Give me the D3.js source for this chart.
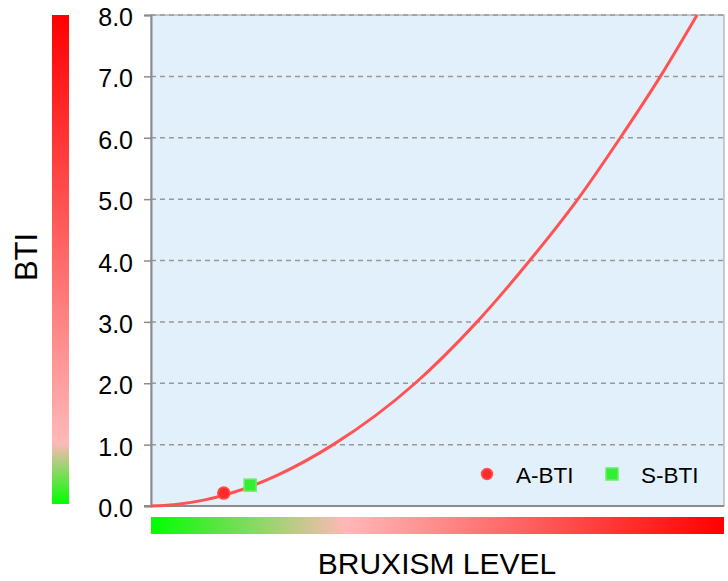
<!DOCTYPE html>
<html>
<head>
<meta charset="utf-8">
<script src="https://cdn.jsdelivr.net/npm/d3@7"></script>
<style>
  html, body { margin: 0; padding: 0; background: #fff; }
  svg { display: block; font-family: "Liberation Sans", Arial, sans-serif; }
</style>
</head>
<body>
<svg id="stage"></svg>
<script>
/* ---------- data ---------- */

const curve_level = [0, 0.4, 0.94, 1.36, 2.2, 3.18, 4.61, 5.69, 6.61, 7.45, 8.19, 8.89, 9.53];
const curve_bti = [0, 0.02, 0.1, 0.2, 0.5, 1, 2, 3, 4, 5, 6, 7, 8];

const marker_names = ["A-BTI", "S-BTI"];
const marker_level = [1.27, 1.73];
const marker_bti = [0.21, 0.34];

const y_ticks = [0, 1, 2, 3, 4, 5, 6, 7, 8];

/* ---------- setup ---------- */

const width = 728;
const height = 581;
const m = { left: 151, right: 4, top: 15, bottom: 75 };

const svg = d3.select("#stage")
  .attr("width", width)
  .attr("height", height);

const x = d3.scaleLinear().domain([0, 10]).range([m.left, width - m.right]);
const y = d3.scaleLinear().domain([0, 8]).range([height - m.bottom, m.top]);

const defs = svg.append("defs");

const v_grad = defs.append("linearGradient")
  .attr("id", "vGrad")
  .attr("x1", 0).attr("y1", 1).attr("x2", 0).attr("y2", 0);
v_grad.append("stop").attr("offset", 0).attr("stop-color", "#00ff00");
v_grad.append("stop").attr("offset", 0.125).attr("stop-color", "#ffb8b8");
v_grad.append("stop").attr("offset", 1).attr("stop-color", "#ff0000");

const h_grad = defs.append("linearGradient")
  .attr("id", "hGrad")
  .attr("x1", 0).attr("y1", 0).attr("x2", 1).attr("y2", 0);
h_grad.append("stop").attr("offset", 0).attr("stop-color", "#00ff00");
h_grad.append("stop").attr("offset", 0.34).attr("stop-color", "#ffb8b8");
h_grad.append("stop").attr("offset", 1).attr("stop-color", "#ff0000");

/* ---------- plot area ---------- */

svg.append("rect")
  .attr("x", x(0)).attr("y", y(8))
  .attr("width", x(10) - x(0)).attr("height", y(0) - y(8))
  .attr("fill", "#e2f0fb")
  .attr("stroke", "#9a9a9a")
  .attr("stroke-width", 1);

svg.append("g")
  .selectAll("line")
  .data(y_ticks.filter(d => d > 0))
  .join("line")
  .attr("x1", x(0)).attr("x2", x(10))
  .attr("y1", d => y(d)).attr("y2", d => y(d))
  .attr("stroke", "#999")
  .attr("stroke-width", 1.5)
  .attr("stroke-dasharray", "5,4");

const y_axis = svg.append("g")
  .attr("transform", `translate(${x(0)},0)`)
  .call(d3.axisLeft(y).tickValues(y_ticks).tickFormat(d3.format(".1f")).tickSize(7).tickPadding(11));
y_axis.select(".domain").attr("stroke", "#8c8c8c").attr("stroke-width", 2);
y_axis.selectAll(".tick line").attr("stroke", "#8c8c8c").attr("stroke-width", 1.5);
y_axis.selectAll(".tick text")
  .attr("font-size", 25)
  .attr("dy", "0.42em")
  .attr("fill", "#000")
  .attr("font-family", "Liberation Sans, Arial, sans-serif");

svg.append("line")
  .attr("x1", x(0) - 7).attr("x2", x(10))
  .attr("y1", y(0)).attr("y2", y(0))
  .attr("stroke", "#8c8c8c").attr("stroke-width", 2);

/* ---------- curve + markers ---------- */

const pts = curve_level.map((v, i) => [v, curve_bti[i]]);

svg.append("path")
  .datum(pts)
  .attr("fill", "none")
  .attr("stroke", "#ff5252")
  .attr("stroke-width", 3)
  .attr("d", d3.line().x(d => x(d[0])).y(d => y(d[1])).curve(d3.curveMonotoneX));

svg.append("circle")
  .attr("cx", x(marker_level[0])).attr("cy", y(marker_bti[0]))
  .attr("r", 6)
  .attr("fill", "#ff2a2a")
  .attr("stroke", "#ff4d4d").attr("stroke-width", 1.5);

svg.append("rect")
  .attr("x", x(marker_level[1]) - 6).attr("y", y(marker_bti[1]) - 6)
  .attr("width", 12).attr("height", 12)
  .attr("fill", "#33ee33")
  .attr("stroke", "#66f066").attr("stroke-width", 1.5);

/* ---------- legend ---------- */

const legend = svg.append("g").attr("transform", "translate(487,474)");
legend.append("circle")
  .attr("r", 5.5)
  .attr("fill", "#ff2a2a")
  .attr("stroke", "#ff5555").attr("stroke-width", 1.5);
legend.append("text")
  .attr("x", 29).attr("y", 8.5)
  .attr("font-size", 22.5)
  .text(marker_names[0]);
legend.append("rect")
  .attr("x", 119).attr("y", -6).attr("width", 12).attr("height", 12)
  .attr("fill", "#33ee33")
  .attr("stroke", "#66f066").attr("stroke-width", 1.5);
legend.append("text")
  .attr("x", 154).attr("y", 8.5)
  .attr("font-size", 22.5)
  .text(marker_names[1]);

/* ---------- gradient bars + titles ---------- */

svg.append("rect")
  .attr("x", 52).attr("y", y(8))
  .attr("width", 17).attr("height", y(0) - y(8) - 2)
  .attr("fill", "url(#vGrad)");

svg.append("rect")
  .attr("x", x(0)).attr("y", 517)
  .attr("width", x(10) - x(0)).attr("height", 17)
  .attr("fill", "url(#hGrad)");

svg.append("text")
  .attr("transform", `translate(37,257) rotate(-90)`)
  .attr("text-anchor", "middle")
  .attr("font-size", 31)
  .text("BTI");

svg.append("text")
  .attr("x", 437)
  .attr("y", 574)
  .attr("text-anchor", "middle")
  .attr("font-size", 30)
  .text("BRUXISM LEVEL");
</script>
</body>
</html>
